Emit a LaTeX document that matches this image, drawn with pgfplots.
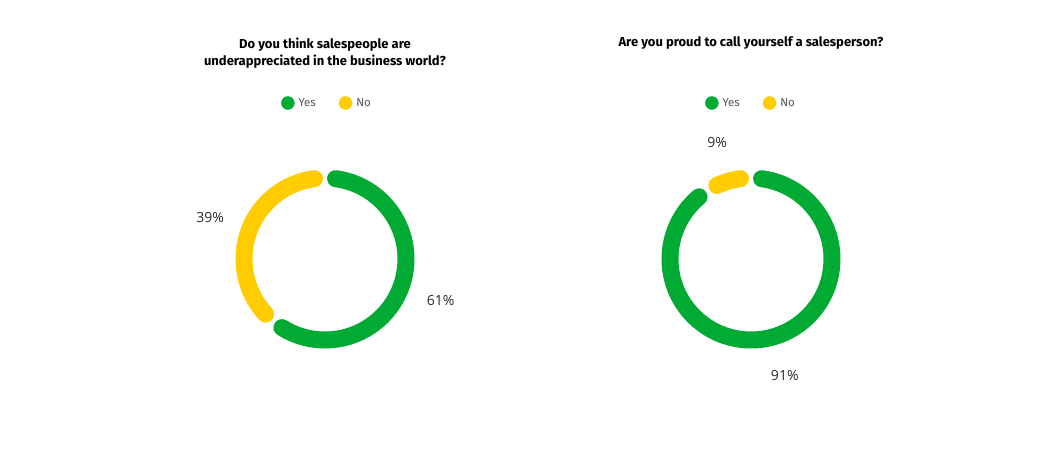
\documentclass[border=0pt]{standalone}
\usepackage{pgfplots}
\pgfplotsset{compat=1.18}
\usepackage{pgfplotstable}
\usepackage{fontspec}
\setmainfont{Fira Sans}
\newfontfamily\labelfont{Open Sans}

\definecolor{yesgreen}{RGB}{0,170,51}
\definecolor{noyellow}{RGB}{255,204,0}
\definecolor{legendgray}{RGB}{85,85,85}
\definecolor{labelgray}{RGB}{40,40,40}

% shares in percent, one table per question
\pgfplotstableread{
answer share
Yes 61
No 39
}\underappreciated
\pgfplotstableread{
answer share
Yes 91
No 9
}\proud

\pgfplotstablegetelem{0}{share}\of\underappreciated \let\yesA\pgfplotsretval
\pgfplotstablegetelem{1}{share}\of\underappreciated \let\noA\pgfplotsretval
\pgfplotstablegetelem{0}{share}\of\proud \let\yesB\pgfplotsretval
\pgfplotstablegetelem{1}{share}\of\proud \let\noB\pgfplotsretval
\pgfmathsetmacro\bndA{90-3.6*\yesA}
\pgfmathsetmacro\bndB{90-3.6*\yesB}
\def\pad{7.5}
\def\rr{81pt}

\tikzset{
  ring/.style={line width=17pt, line cap=round},
  pct/.style={font=\labelfont\fontsize{14}{16}\selectfont, text=labelgray},
}
\pgfplotsset{
  donut/.style={
    width=522.5pt, height=453pt, scale only axis,
    ymin=0, ymax=453, hide axis, clip=false,
    legend columns=2,
    legend style={draw=none, fill=none, anchor=center,
      font=\fontsize{11.5}{13}\selectfont\color{legendgray},
      /tikz/every even column/.append style={column sep=21pt}},
    legend image code/.code={\fill (0pt,0pt) circle[radius=6.5pt];
      \path (8.5pt,0pt);},
  },
}

\begin{document}
\begin{tikzpicture}
\begin{axis}[donut, xmin=0, xmax=522.5,
  legend style={at={(axis cs:327,350)}}]
\path (axis cs:0,0) rectangle (axis cs:522.5,453);
\addlegendimage{yesgreen, fill=yesgreen}
\addlegendentry{Yes}
\addlegendimage{noyellow, fill=noyellow}
\addlegendentry{No}
\draw[ring, yesgreen] (axis cs:325,194) ++(90-\pad:\rr)
  arc[start angle=90-\pad, end angle=\bndA+\pad, radius=\rr];
\draw[ring, noyellow] (axis cs:325,194) ++(\bndA-\pad:\rr)
  arc[start angle=\bndA-\pad, end angle=-270+\pad, radius=\rr];
\path (axis cs:325,194) ++({(90+\bndA)/2}:123pt) node[pct] {\yesA\%};
\path (axis cs:325,194) ++({(\bndA-270)/2}:122pt) node[pct] {\noA\%};
\node[font=\bfseries\fontsize{13}{17}\selectfont, align=center]
  at (axis cs:325,400) {Do you think salespeople are\\underappreciated in the business world?};
\end{axis}

\begin{axis}[donut, at={(522.5pt,0pt)}, xmin=522.5, xmax=1045,
  legend style={at={(axis cs:751,350)}}]
\path (axis cs:522.5,0) rectangle (axis cs:1045,453);
\addlegendimage{yesgreen, fill=yesgreen}
\addlegendentry{Yes}
\addlegendimage{noyellow, fill=noyellow}
\addlegendentry{No}
\draw[ring, yesgreen] (axis cs:751,194) ++(90-\pad:\rr)
  arc[start angle=90-\pad, end angle=\bndB+\pad, radius=\rr];
\draw[ring, noyellow] (axis cs:751,194) ++(\bndB-\pad:\rr)
  arc[start angle=\bndB-\pad, end angle=-270+\pad, radius=\rr];
\path (axis cs:751,194) ++({(90+\bndB)/2}:121pt) node[pct] {\yesB\%};
\path (axis cs:751,194) ++({(\bndB-270)/2}:121pt) node[pct] {\noB\%};
\node[font=\bfseries\fontsize{13}{17}\selectfont, align=center]
  at (axis cs:751,410) {Are you proud to call yourself a salesperson?};
\end{axis}
\end{tikzpicture}
\end{document}
